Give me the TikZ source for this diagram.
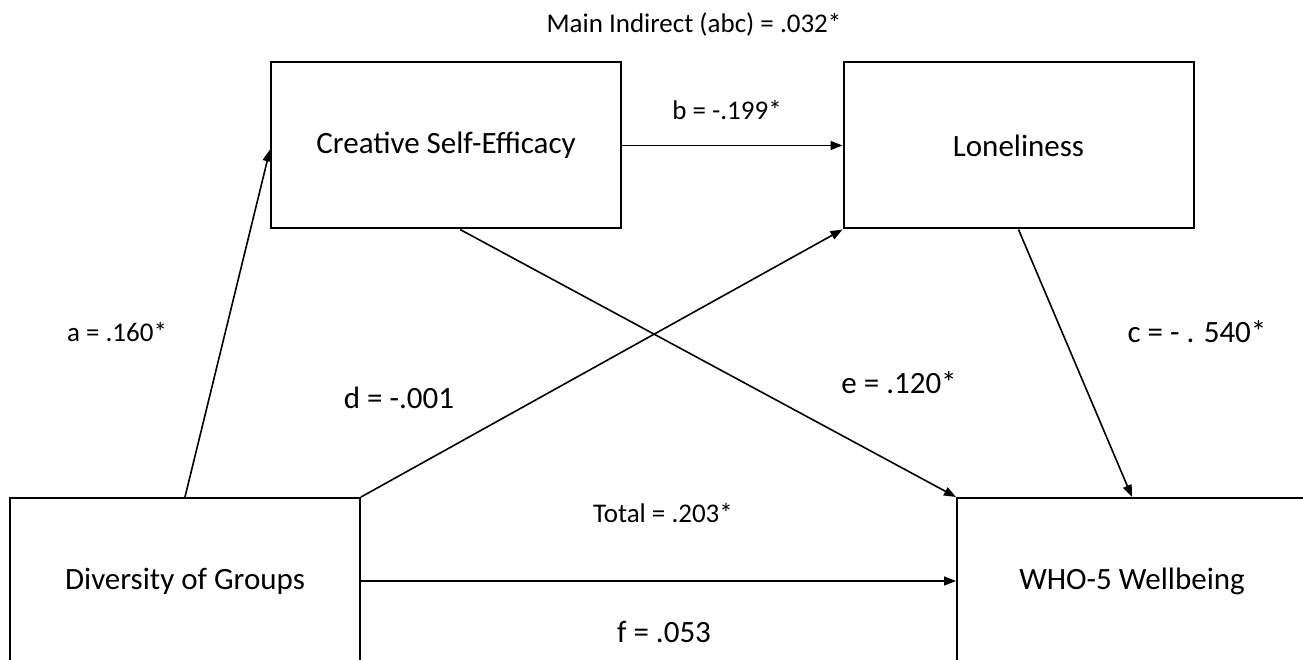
\documentclass[tikz,border=0pt]{standalone}
\usepackage{fontspec}
\setmainfont{Carlito}
\usetikzlibrary{arrows.meta,calc}
\tikzset{
  varbox/.style={draw, line width=2pt, minimum width=350pt, minimum height=166pt, inner sep=0pt, font=\fontsize{31}{37}\selectfont},
  link/.style={line width=1.6pt, -{Triangle[length=12pt,width=9pt]}},
  biglab/.style={font=\fontsize{31}{37}\selectfont, inner sep=0pt},
  smalllab/.style={font=\fontsize{27}{32}\selectfont, inner sep=0pt}
}
\begin{document}
\begin{tikzpicture}[x=1pt,y=-1pt]
\useasboundingbox (0,0) rectangle (1303,660);
\clip (0,0) rectangle (1303,660);
\node[varbox] (cse) at (446,145.5) {Creative Self-Efficacy};
\node[varbox] (lon) at (1018.5,145.5) {Loneliness};
\node[varbox] (div) at (185,581) {Diversity of Groups};
\node[varbox] (who) at (1132,581) {WHO-5 Wellbeing};
\coordinate (eStart) at ($(cse.south west)!0.54!(cse.south east)$);
\draw[link] (div.north) -- ([yshift=-4pt]cse.west);
\draw[link] (cse.east) -- (lon.west);
\draw[link] (div.north east) -- (lon.south west);
\draw[link] (eStart) -- (who.north west);
\draw[link] (lon.south) -- (who.north);
\draw[link] (div.east) -- (who.west);
\node[smalllab] (lmain) at (694,25) {Main Indirect (abc) = .032*};
\node[smalllab] (lb) at (727,110) {b = -.199*};
\node[smalllab] (la) at (117,332) {a = .160*};
\node[biglab] (ld) at (399,398) {d = -.001};
\node[biglab] (le) at (899,383) {e = .120*};
\node[biglab] (lc) at (1197,332) {c = - . 540*};
\node[smalllab] (ltot) at (663,513) {Total = .203*};
\node[biglab] (lf) at (664,632) {f = .053};
\end{tikzpicture}
\end{document}
